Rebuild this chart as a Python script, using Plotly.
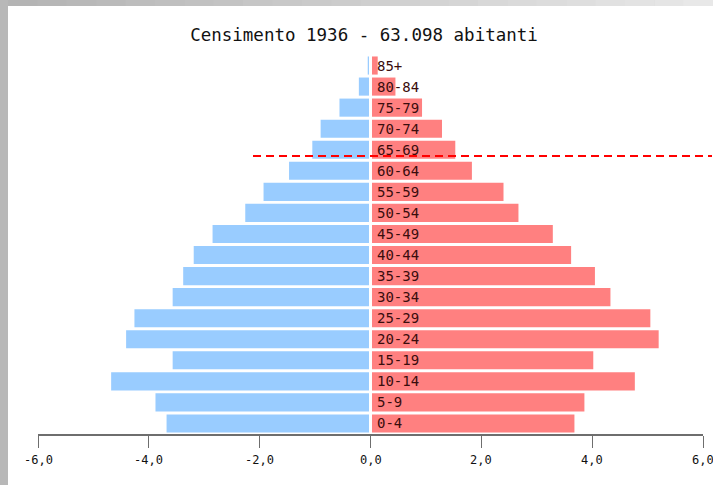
import plotly.graph_objects as go

# ---- data ----
age_groups = ["0-4", "5-9", "10-14", "15-19", "20-24", "25-29", "30-34", "35-39",
              "40-44", "45-49", "50-54", "55-59", "60-64", "65-69", "70-74",
              "75-79", "80-84", "85+"]
males_pct = [3.68, 3.88, 4.68, 3.57, 4.41, 4.26, 3.57, 3.38, 3.19, 2.85,
             2.26, 1.93, 1.47, 1.05, 0.90, 0.56, 0.21, 0.05]
females_pct = [3.68, 3.86, 4.77, 4.02, 5.20, 5.05, 4.33, 4.05, 3.62, 3.29,
               2.67, 2.40, 1.83, 1.53, 1.29, 0.93, 0.45, 0.13]
tick_values = [-6, -4, -2, 0, 2, 4, 6]
tick_labels = ["-6,0", "-4,0", "-2,0", "0,0", "2,0", "4,0", "6,0"]
title_text = "Censimento 1936 - 63.098 abitanti"

W, H = 713, 485
ML, MR, MT, MB = 38, 10, 55, 51
PW, PH = W - ML - MR, H - MT - MB

def px_to_paper_x(px):
    return (px - ML) / PW

def px_to_paper_y(py):
    return (H - MB - py) / PH

fig = go.Figure()
fig.add_trace(go.Bar(
    y=age_groups, x=[-v for v in males_pct], orientation="h",
    marker=dict(color="#99ccff", line=dict(width=0)), name="Maschi",
))
fig.add_trace(go.Bar(
    y=age_groups, x=females_pct, orientation="h",
    marker=dict(color="#ff8080", line=dict(width=0)), name="Femmine",
))

annotations = []
for g in age_groups:
    annotations.append(dict(
        x=0, y=g, xref="x", yref="y", text=g, showarrow=False,
        xanchor="left", yanchor="middle", xshift=4,
        font=dict(family="DejaVu Sans Mono", size=14, color="#3a0d0d"),
    ))
# x tick labels (drawn as annotations so the outermost one is not hidden)
for v, lab in zip(tick_values, tick_labels):
    annotations.append(dict(
        x=v, y=0, xref="x", yref="paper", text=lab, showarrow=False,
        xanchor="center", yanchor="middle", yshift=-26,
        font=dict(family="DejaVu Sans Mono", size=12, color="#111"),
    ))

shapes = []
# white page area over grey paper (leaves grey frame left and top)
shapes.append(dict(type="rect", xref="paper", yref="paper",
                   x0=px_to_paper_x(8), x1=px_to_paper_x(W + 2),
                   y0=px_to_paper_y(H + 2), y1=px_to_paper_y(6),
                   fillcolor="white", line=dict(width=0), layer="below"))
# top grey border as stepped gradient
n = 24
for i in range(n):
    t = i / (n - 1)
    c = int(0xb4 + (0xe8 - 0xb4) * t)
    x0 = 8 + (W - 8) * i / n
    x1 = 8 + (W - 8) * (i + 1) / n + 0.5
    shapes.append(dict(type="rect", xref="paper", yref="paper",
                       x0=px_to_paper_x(x0), x1=px_to_paper_x(x1),
                       y0=px_to_paper_y(6), y1=px_to_paper_y(-1),
                       fillcolor=f"rgb({c},{c},{c})", line=dict(width=0), layer="below"))
# white separator at zero
shapes.append(dict(type="line", xref="x", yref="y", x0=0, x1=0, y0=-0.5, y1=17.5,
                   line=dict(color="white", width=3), layer="above"))
# dashed red line
shapes.append(dict(type="line", xref="paper", yref="paper",
                   x0=px_to_paper_x(253), x1=px_to_paper_x(712),
                   y0=px_to_paper_y(156), y1=px_to_paper_y(156),
                   line=dict(color="#ff0000", width=2, dash="8px,5px"), layer="above"))

fig.update_layout(
    width=W, height=H, autosize=False,
    margin=dict(l=ML, r=MR, t=MT, b=MB, pad=0),
    paper_bgcolor="#b8b8b8", plot_bgcolor="white",
    barmode="relative", bargap=0.14, showlegend=False,
    title=dict(text=title_text, x=364 / W, xref="container", xanchor="center",
               y=1 - 35 / H, yref="container", yanchor="middle",
               font=dict(family="DejaVu Sans Mono", size=17.5, color="#111")),
    xaxis=dict(range=[-6, 6], tickvals=tick_values,
               showticklabels=False, automargin=False,
               ticks="outside", ticklen=12, tickwidth=1, tickcolor="#6e6e6e",
               showline=True, linecolor="#6e6e6e", linewidth=2,
               showgrid=False, zeroline=False),
    yaxis=dict(categoryorder="array", categoryarray=age_groups, range=[-0.5, 17.5],
               showticklabels=False, showgrid=False, zeroline=False, showline=False,
               ticks="", automargin=False),
    annotations=annotations,
    shapes=shapes,
)

fig.write_html(
    "out.html",
    config={"displayModeBar": False, "responsive": False},
    post_script=("document.documentElement.style.overflow='hidden';"
                 "document.body.style.overflow='hidden';"
                 "document.body.style.margin='0';"),
)
